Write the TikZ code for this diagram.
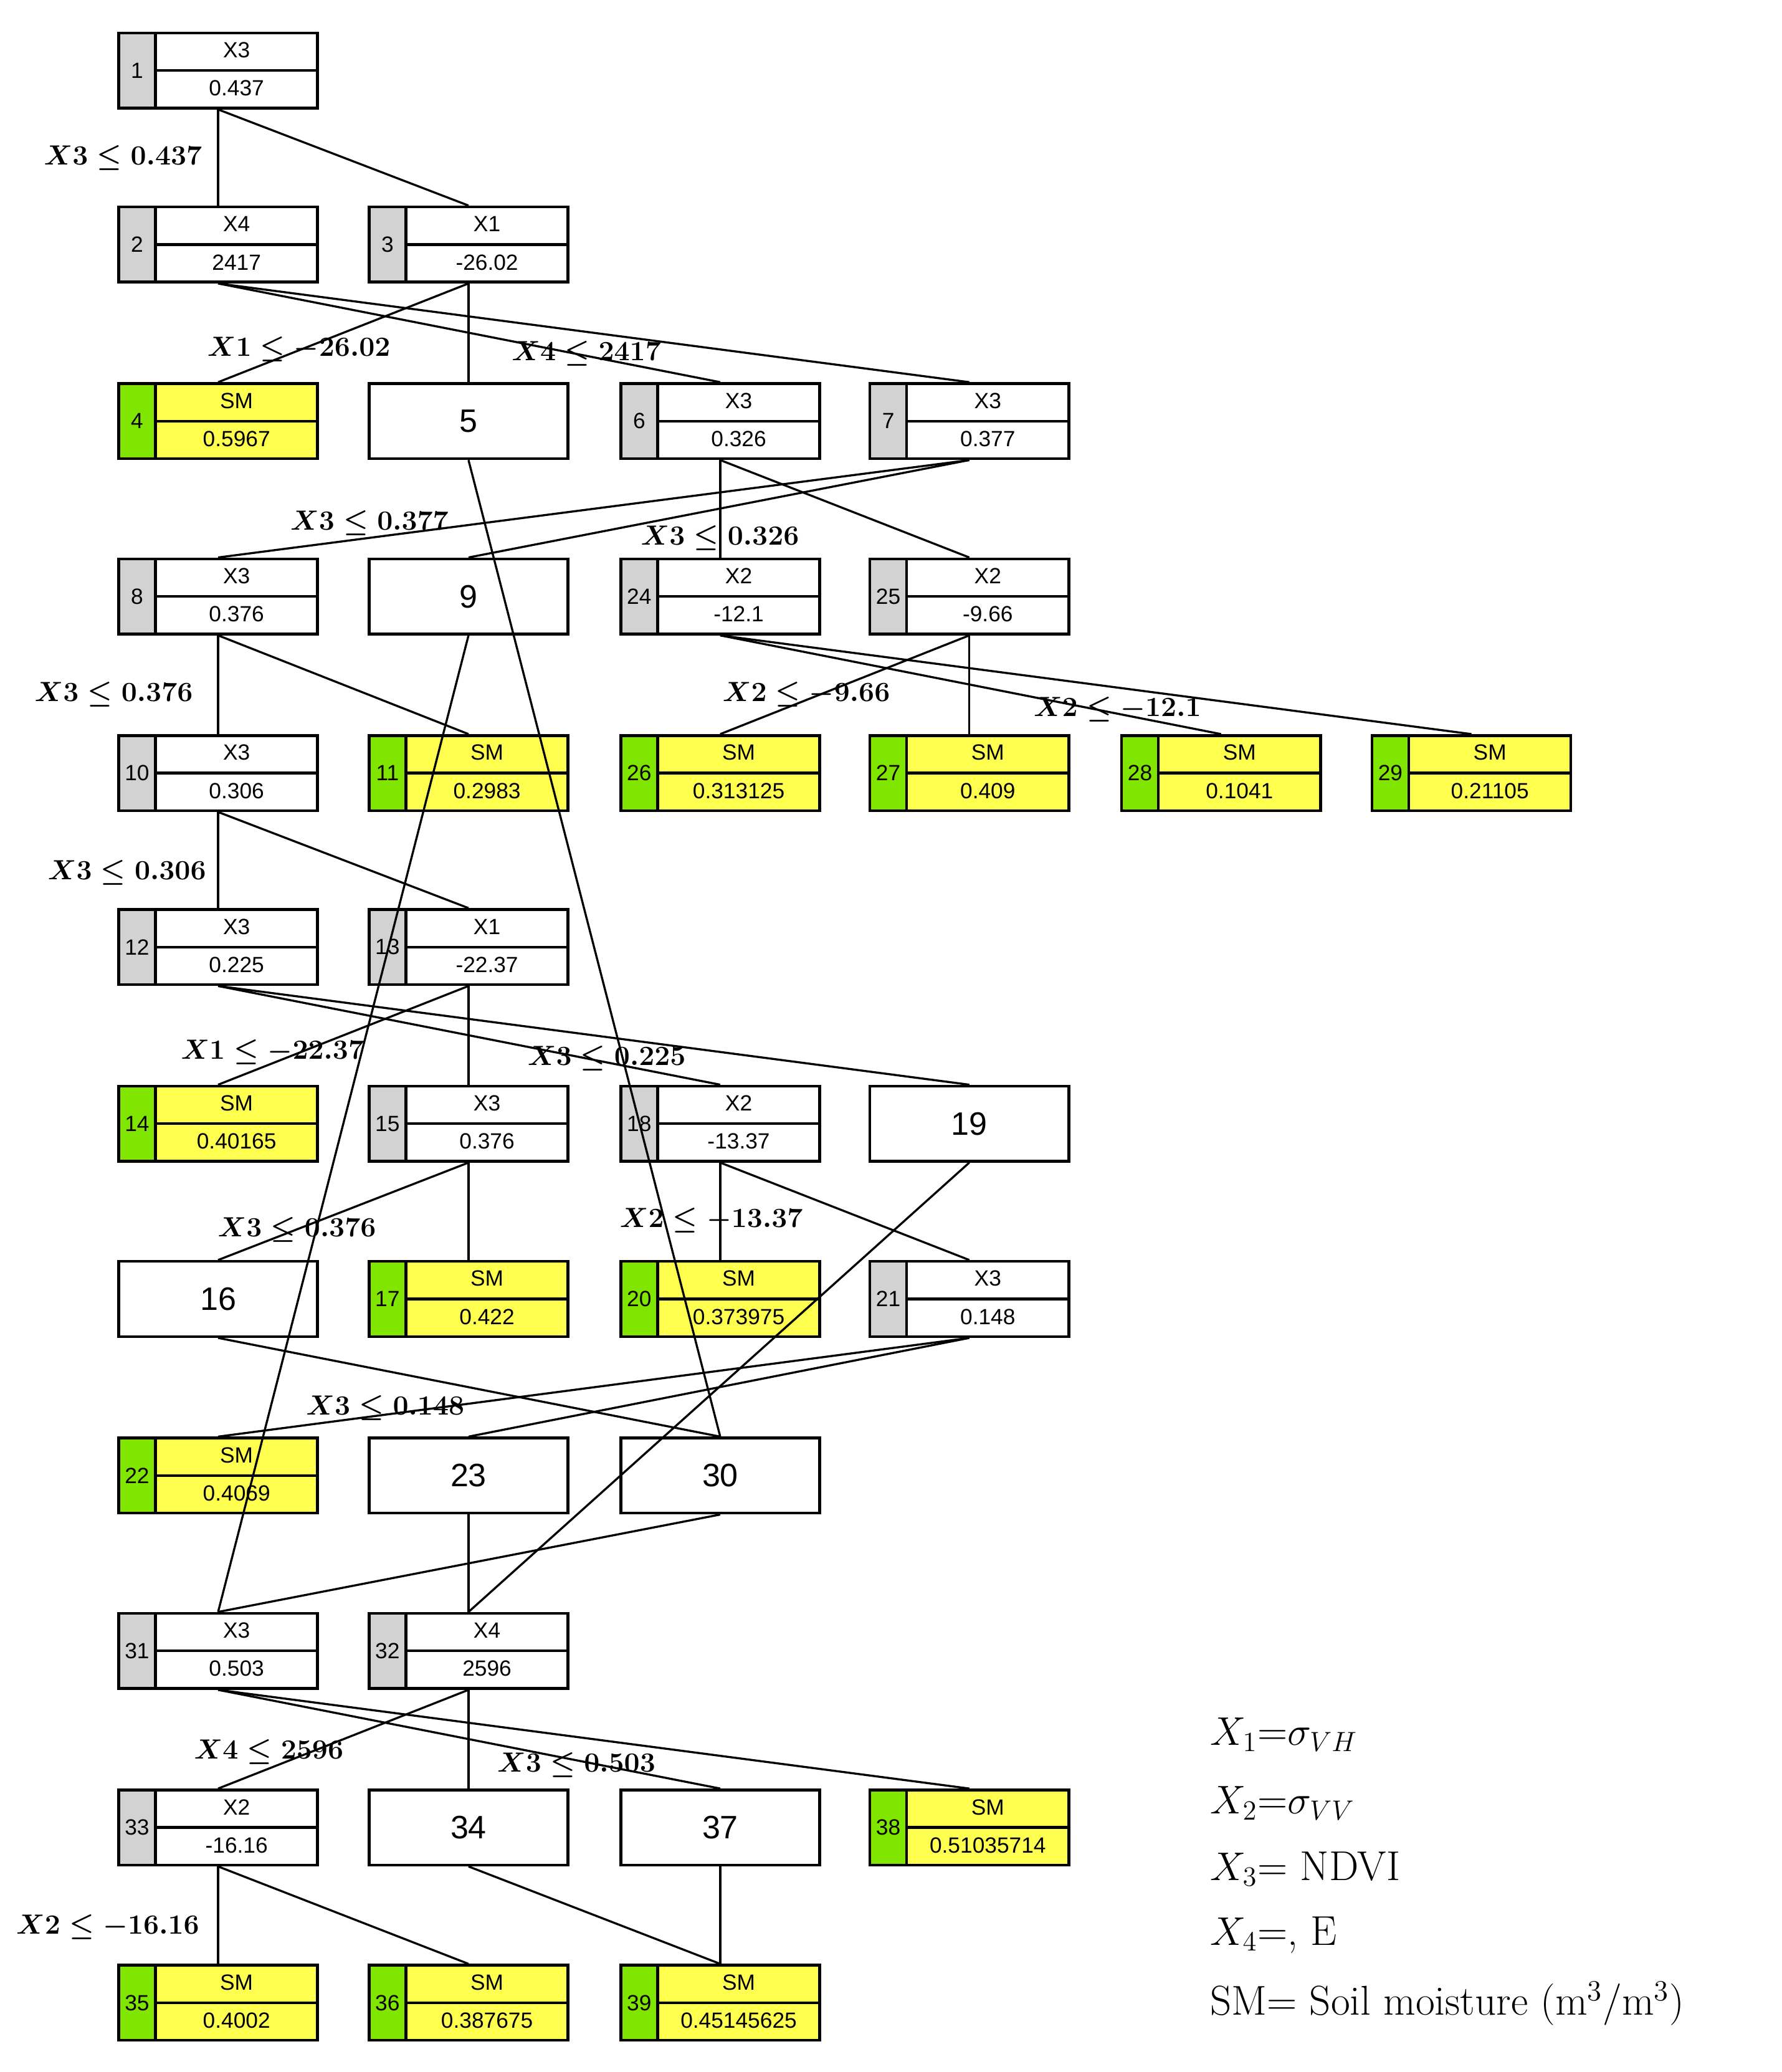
\documentclass[tikz,border=0pt]{standalone}
\usepackage{fontspec}
\usepackage{amsmath}
\newfontfamily\boxfont{Liberation Sans}
\definecolor{idgray}{RGB}{210,210,210}
\definecolor{idgreen}{RGB}{128,230,0}
\definecolor{leafy}{RGB}{255,255,80}
\tikzset{
  box/.style={draw,line width=1.2pt,minimum width=3.02cm,minimum height=1.14cm,inner sep=0pt},
  txt/.style={font=\boxfont\fontsize{9.5}{11}\selectfont,inner sep=0pt},
  big/.style={font=\boxfont\fontsize{14}{16}\selectfont},
  lab/.style={font=\fontsize{12}{14}\selectfont\bfseries,anchor=west,inner sep=0pt},
  leg/.style={font=\fontsize{18}{21}\selectfont,anchor=west,inner sep=0pt},
  edge/.style={line width=0.9pt}
}
\newcommand\tbox[8]{%
  \fill[#8] ({#2+28},#3) rectangle ({#2+151},{#3+57});
  \fill[#7] (#2,#3) rectangle ({#2+28},{#3+57});
  \draw[line width=1.2pt] ({#2+28},#3) -- ({#2+28},{#3+57});
  \draw[line width=1.2pt] ({#2+28},{#3+28.5}) -- ({#2+151},{#3+28.5});
  \node[txt] at ({#2+14},{#3+28.5}) {#4};
  \node[txt] at ({#2+89.5},{#3+13}) {#5};
  \node[txt] at ({#2+89.5},{#3+42}) {#6};
  \node[box] (n#1) at ({#2+75.5},{#3+28.5}) {};
}
\newcommand\ibox[5]{\tbox{#1}{#2}{#3}{#1}{#4}{#5}{idgray}{white}}
\newcommand\lbox[4]{\tbox{#1}{#2}{#3}{#1}{SM}{#4}{idgreen}{leafy}}
\newcommand\ebox[3]{\node[box,big] (n#1) at ({#2+75.5},{#3+28.5}) {#1};}
\newcommand\cond[2]{$\boldsymbol{X#1 \leq #2}$}
\begin{document}
\begin{tikzpicture}[x=0.02cm,y=-0.02cm]
\useasboundingbox (0,0) rectangle (1352,1572);
\def\A{90}\def\B{280}\def\C{471}\def\D{660}\def\E{851}\def\F{1041}
\ibox{1}{\A}{25}{X3}{0.437}
\ibox{2}{\A}{157}{X4}{2417}
\ibox{3}{\B}{157}{X1}{-26.02}
\lbox{4}{\A}{291}{0.5967}
\ebox{5}{\B}{291}
\ibox{6}{\C}{291}{X3}{0.326}
\ibox{7}{\D}{291}{X3}{0.377}
\ibox{8}{\A}{424}{X3}{0.376}
\ebox{9}{\B}{424}
\ibox{24}{\C}{424}{X2}{-12.1}
\ibox{25}{\D}{424}{X2}{-9.66}
\ibox{10}{\A}{558}{X3}{0.306}
\lbox{11}{\B}{558}{0.2983}
\lbox{26}{\C}{558}{0.313125}
\lbox{27}{\D}{558}{0.409}
\lbox{28}{\E}{558}{0.1041}
\lbox{29}{\F}{558}{0.21105}
\ibox{12}{\A}{690}{X3}{0.225}
\ibox{13}{\B}{690}{X1}{-22.37}
\lbox{14}{\A}{824}{0.40165}
\ibox{15}{\B}{824}{X3}{0.376}
\ibox{18}{\C}{824}{X2}{-13.37}
\ebox{19}{\D}{824}
\ebox{16}{\A}{957}
\lbox{17}{\B}{957}{0.422}
\lbox{20}{\C}{957}{0.373975}
\ibox{21}{\D}{957}{X3}{0.148}
\lbox{22}{\A}{1091}{0.4069}
\ebox{23}{\B}{1091}
\ebox{30}{\C}{1091}
\ibox{31}{\A}{1224}{X3}{0.503}
\ibox{32}{\B}{1224}{X4}{2596}
\ibox{33}{\A}{1358}{X2}{-16.16}
\ebox{34}{\B}{1358}
\ebox{37}{\C}{1358}
\lbox{38}{\D}{1358}{0.51035714}
\lbox{35}{\A}{1491}{0.4002}
\lbox{36}{\B}{1491}{0.387675}
\lbox{39}{\C}{1491}{0.45145625}
\foreach \p/\c in {1/2,1/3,2/6,2/7,3/4,3/5,5/30,9/31,6/24,6/25,7/8,7/9,8/10,8/11,
  24/28,24/29,25/26,25/27,10/12,10/13,12/18,12/19,13/14,13/15,15/16,15/17,18/20,18/21,
  19/32,16/30,21/22,21/23,23/32,30/31,31/37,31/38,32/33,32/34,33/35,33/36,34/39,37/39}
  \draw[edge] (n\p.south) -- (n\c.north);
\node[lab] at (33,120) {\cond{3}{0.437}};
\node[lab] at (157,265) {\cond{1}{-26.02}};
\node[lab] at (388,268) {\cond{4}{2417}};
\node[lab] at (220,397) {\cond{3}{0.377}};
\node[lab] at (486,408) {\cond{3}{0.326}};
\node[lab] at (26,527) {\cond{3}{0.376}};
\node[lab] at (548,527) {\cond{2}{-9.66}};
\node[lab] at (784,538) {\cond{2}{-12.1}};
\node[lab] at (36,662) {\cond{3}{0.306}};
\node[lab] at (137,798) {\cond{1}{-22.37}};
\node[lab] at (400,803) {\cond{3}{0.225}};
\node[lab] at (165,933) {\cond{3}{0.376}};
\node[lab] at (470,926) {\cond{2}{-13.37}};
\node[lab] at (232,1068) {\cond{3}{0.148}};
\node[lab] at (147,1329) {\cond{4}{2596}};
\node[lab] at (377,1339) {\cond{3}{0.503}};
\node[lab] at (12,1462) {\cond{2}{-16.16}};
\node[leg] at (918,1316) {$X_1$=$\sigma_{VH}$};
\node[leg] at (918,1368) {$X_2$=$\sigma_{VV}$};
\node[leg] at (918,1418) {$X_3$= NDVI};
\node[leg] at (918,1468) {$X_4$=, E};
\node[leg] at (918,1520) {SM= Soil moisture (m\textsuperscript{3}/m\textsuperscript{3})};
\end{tikzpicture}
\end{document}
